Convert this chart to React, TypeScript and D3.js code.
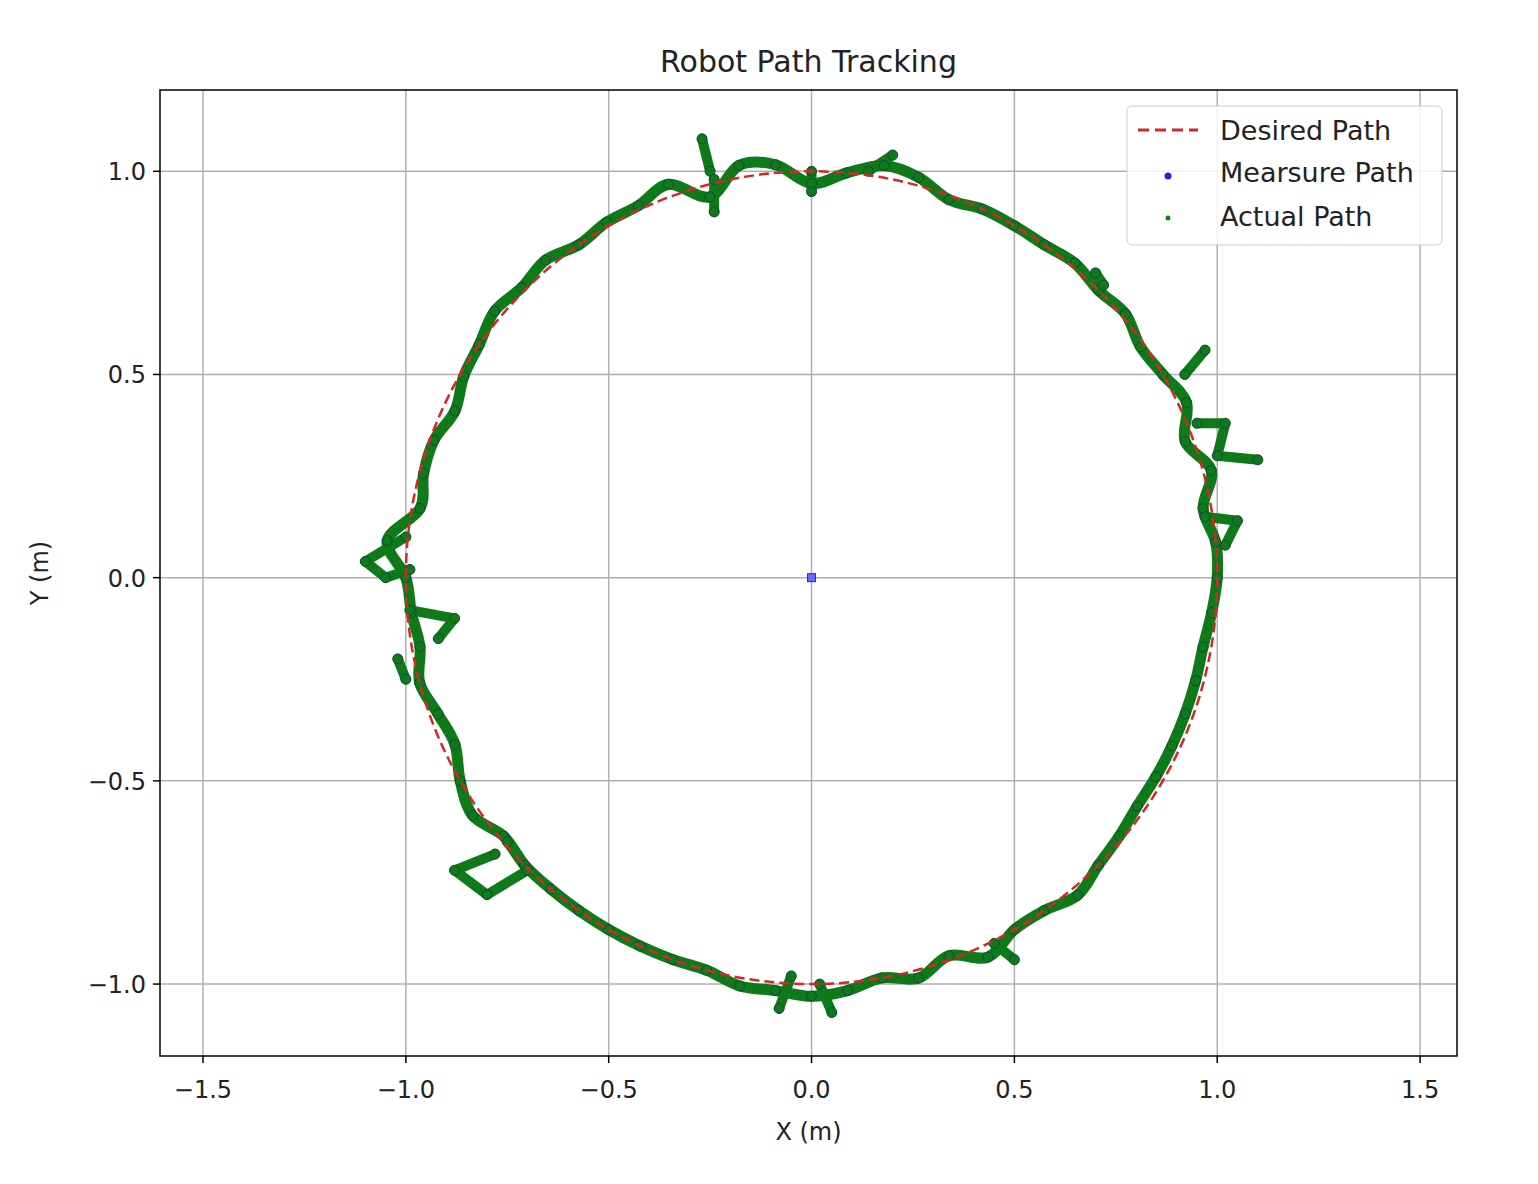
import React from 'react';
import * as d3 from 'd3';

// Desired path: unit circle centred at origin
const desiredRadius = 1.0;

// Actual path: [angle in degrees, radius]
const actualPolar: [number, number][] = [
  [0, 1.0], [5, 1.0], [10, 0.98], [15, 1.02], [20, 0.98], [25, 1.02], [30, 1.0], [35, 0.99],
  [40, 1.01], [45, 1.0], [50, 1.01], [55, 1.0], [60, 1.0], [65, 1.0], [70, 0.99], [75, 1.02],
  [80, 1.03], [85, 1.0], [90, 0.97], [95, 1.02], [100, 1.03], [105, 0.97], [110, 1.03], [115, 1.01],
  [120, 1.01], [125, 1.0], [130, 1.02], [135, 1.01], [140, 1.02], [145, 1.0], [150, 0.99], [155, 0.97],
  [160, 0.99], [165, 0.99], [170, 0.98], [175, 1.05], [180, 1.0], [185, 0.99], [190, 0.98], [195, 1.0],
  [200, 0.98], [205, 0.97], [210, 1.0], [215, 1.02], [220, 0.99], [225, 1.0], [230, 1.0], [235, 1.0],
  [240, 1.0], [245, 1.0], [250, 1.0], [255, 1.0], [260, 1.02], [265, 1.02], [270, 1.03], [275, 1.02],
  [280, 1.0], [285, 1.02], [290, 0.99], [295, 1.03], [300, 1.0], [305, 1.0], [310, 1.02], [315, 1.0],
  [320, 0.99], [325, 0.98], [330, 0.98], [335, 0.98], [340, 0.98], [345, 0.98], [350, 0.98], [355, 0.99],
];

// Excursions away from the main trace: [x, y]
const actualSpurs: [number, number][][] = [
  [[0.95, 0.38], [1.02, 0.38], [1.0, 0.3], [1.1, 0.29]],
  [[0.97, 0.15], [1.05, 0.14], [1.02, 0.08]],
  [[0.92, 0.5], [0.97, 0.56]],
  [[-1.0, 0.1], [-1.1, 0.04], [-1.05, 0.0], [-0.99, 0.02]],
  [[-0.99, -0.08], [-0.88, -0.1], [-0.92, -0.15]],
  [[-1.02, -0.2], [-1.0, -0.25]],
  [[-0.78, -0.68], [-0.88, -0.72], [-0.8, -0.78], [-0.7, -0.72], [-0.75, -0.65]],
  [[-0.05, -0.98], [-0.08, -1.06]],
  [[0.02, -1.0], [0.05, -1.07]],
  [[-0.25, 1.0], [-0.27, 1.08]],
  [[-0.24, 0.98], [-0.24, 0.9]],
  [[0.0, 1.0], [0.0, 0.95]],
  [[0.14, 1.0], [0.2, 1.04]],
  [[0.72, 0.72], [0.7, 0.75]],
  [[0.45, -0.9], [0.5, -0.94]],
];

const measurePoints: [number, number][] = [[0, 0]];

const xTicks = [-1.5, -1.0, -0.5, 0.0, 0.5, 1.0, 1.5];
const yTicks = [-1.0, -0.5, 0.0, 0.5, 1.0];

const W = 1538, H = 1184;
const left = 160, right = 1457, top = 90, bottom = 1056;
const font = 'DejaVu Sans, sans-serif';
const green = '#0e7a1a';

const fmt = (v: number) => v.toFixed(1).replace('-', '\u2212');

export default function App() {
  const x = d3.scaleLinear().domain([-1.606, 1.591]).range([left, right]);
  const y = d3.scaleLinear().domain([-1.177, 1.2]).range([bottom, top]);

  const mainXY: [number, number][] = actualPolar.map(([a, r]) => {
    const t = (a * Math.PI) / 180;
    return [r * Math.cos(t), r * Math.sin(t)];
  });
  const line = d3.line<[number, number]>().x(d => x(d[0])).y(d => y(d[1]));
  const closed = d3.line<[number, number]>().x(d => x(d[0])).y(d => y(d[1])).curve(d3.curveCardinalClosed);

  const allPts = mainXY.concat(...actualSpurs);

  return (
    <svg width={W} height={H} style={{ display: 'block', margin: -8 }} fontFamily={font}>
      <rect width={W} height={H} fill="#fff" />
      {/* grid */}
      {xTicks.map(t => (
        <line key={'gx' + t} x1={x(t)} x2={x(t)} y1={top} y2={bottom} stroke="#b0b0b0" strokeWidth={1.5} />
      ))}
      {yTicks.map(t => (
        <line key={'gy' + t} x1={left} x2={right} y1={y(t)} y2={y(t)} stroke="#b0b0b0" strokeWidth={1.5} />
      ))}
      {/* actual path */}
      <path d={closed(mainXY) || ''} fill="none" stroke={green} strokeWidth={11} strokeLinejoin="round" />
      {actualSpurs.map((s, i) => (
        <path key={i} d={line(s) || ''} fill="none" stroke={green} strokeWidth={10} strokeLinecap="round" strokeLinejoin="round" />
      ))}
      {allPts.map((p, i) => (
        <circle key={'p' + i} cx={x(p[0])} cy={y(p[1])} r={5} fill={green} stroke="#104a3a" strokeWidth={1} />
      ))}
      {/* desired path */}
      <ellipse cx={x(0)} cy={y(0)} rx={x(desiredRadius) - x(0)} ry={y(0) - y(desiredRadius)}
        fill="none" stroke="#d62728" strokeWidth={2.5} strokeDasharray="10,5" />
      {/* measured */}
      {measurePoints.map((p, i) => (
        <rect key={'m' + i} x={x(p[0]) - 4} y={y(p[1]) - 4} width={8} height={8} fill="#6a6aff" stroke="#2020e0" />
      ))}
      {/* frame */}
      <rect x={left} y={top} width={right - left} height={bottom - top} fill="none" stroke="#000" strokeWidth={1.5} />
      {xTicks.map(t => (
        <g key={'tx' + t}>
          <line x1={x(t)} x2={x(t)} y1={bottom} y2={bottom + 7} stroke="#000" strokeWidth={1.5} />
          <text x={x(t)} y={bottom + 42} textAnchor="middle" fontSize={24} fill="#222">{fmt(t)}</text>
        </g>
      ))}
      {yTicks.map(t => (
        <g key={'ty' + t}>
          <line x1={left - 7} x2={left} y1={y(t)} y2={y(t)} stroke="#000" strokeWidth={1.5} />
          <text x={left - 14} y={y(t) + 9} textAnchor="end" fontSize={24} fill="#222">{fmt(t)}</text>
        </g>
      ))}
      <text x={(left + right) / 2} y={1140} textAnchor="middle" fontSize={24} fill="#222">X (m)</text>
      <text transform={`translate(48,${(top + bottom) / 2}) rotate(-90)`} textAnchor="middle" fontSize={24} fill="#222">Y (m)</text>
      <text x={(left + right) / 2} y={72} textAnchor="middle" fontSize={30} fill="#222">Robot Path Tracking</text>
      {/* legend */}
      <rect x={1127} y={106} width={315} height={139} rx={5} fill="#fff" fillOpacity={0.85} stroke="#ccc" />
      <line x1={1138} x2={1198} y1={130} y2={130} stroke="#d62728" strokeWidth={3} strokeDasharray="11,6" />
      <circle cx={1168} cy={176} r={3.5} fill="#1f1fff" />
      <circle cx={1168} cy={218} r={2.5} fill="#0a8a0a" />
      <text x={1220} y={140} fontSize={27} fill="#222">Desired Path</text>
      <text x={1220} y={182} fontSize={27} fill="#222">Mearsure Path</text>
      <text x={1220} y={226} fontSize={27} fill="#222">Actual Path</text>
    </svg>
  );
}
